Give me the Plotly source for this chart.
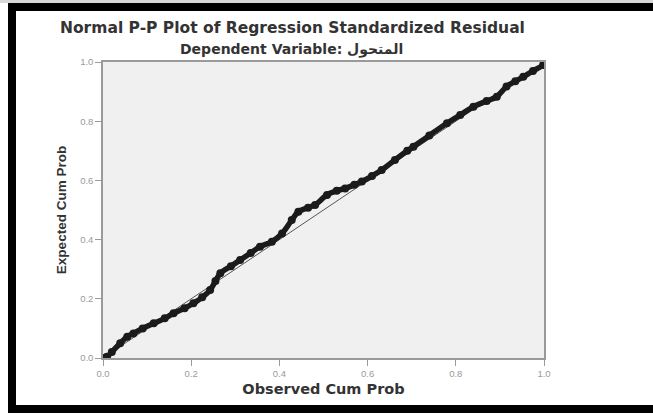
import plotly.graph_objects as go

# Data
observed = [0.0, 0.009, 0.02, 0.039, 0.055, 0.069, 0.09, 0.115, 0.14, 0.16, 0.185,
            0.205, 0.225, 0.243, 0.255, 0.266, 0.29, 0.311, 0.335, 0.356, 0.383,
            0.406, 0.428, 0.443, 0.465, 0.481, 0.508, 0.53, 0.549, 0.57, 0.587,
            0.61, 0.632, 0.662, 0.69, 0.704, 0.74, 0.78, 0.81, 0.84, 0.87, 0.893,
            0.915, 0.935, 0.953, 0.975, 0.998, 1.0]
expected = [0.0, 0.004, 0.02, 0.05, 0.072, 0.083, 0.10, 0.117, 0.134, 0.151, 0.168,
            0.185, 0.205, 0.23, 0.26, 0.286, 0.31, 0.331, 0.355, 0.376, 0.393,
            0.421, 0.466, 0.494, 0.508, 0.517, 0.551, 0.565, 0.573, 0.585, 0.596,
            0.615, 0.635, 0.669, 0.70, 0.714, 0.752, 0.793, 0.821, 0.849, 0.868, 0.883,
            0.917, 0.935, 0.95, 0.97, 0.99, 1.0]
diag = [0.0, 1.0]
tick_vals = [0.0, 0.2, 0.4, 0.6, 0.8, 1.0]
tick_text = ["0.0", "0.2", "0.4", "0.6", "0.8", "1.0"]

# Window-coordinate geometry (figure sits inside a CSS black frame)
OX, OY = 16, 11
W, H = 637, 394
PX0, PX1, PY0, PY1 = 103, 544, 62, 358
L, R = PX0 - OX, (OX + W) - PX1
T, B = PY0 - OY, (OY + H) - PY1
pw, ph = PX1 - PX0, PY1 - PY0

def px(x):
    return (x - PX0) / pw

def py(y):
    return (PY1 - y) / ph

fig = go.Figure()
fig.add_trace(go.Scatter(x=diag, y=diag, mode="lines",
                         line=dict(color="#555555", width=1), hoverinfo="skip"))
fig.add_trace(go.Scatter(x=observed, y=expected, mode="lines+markers",
                         line=dict(color="#1b1b1b", width=5.5, shape="spline"),
                         marker=dict(symbol="circle-open", size=6, color="#1b1b1b",
                                     line=dict(width=2))))

axis_common = dict(range=[0, 1], tickvals=tick_vals, ticktext=tick_text,
                   showgrid=False, zeroline=False, showline=True, mirror=True,
                   linecolor="#9a9a9a", linewidth=1.5, ticks="outside", ticklen=6,
                   tickcolor="#9a9a9a", tickfont=dict(family="Arial", size=9.5, color="#9a9a9a"))

fig.update_layout(
    width=W, height=H,
    margin=dict(l=L, r=R, t=T, b=B, autoexpand=False),
    paper_bgcolor="white", plot_bgcolor="#f0f0f0",
    showlegend=False,
    xaxis=dict(**axis_common,
               title=dict(text="<b>Observed Cum Prob</b>", standoff=6,
                          font=dict(family="DejaVu Sans", size=14.5, color="#333333"))),
    yaxis=dict(**axis_common,
               title=dict(text="<b>Expected Cum Prob</b>", standoff=10,
                          font=dict(family="Liberation Sans", size=13.5, color="#333333"))),
    annotations=[
        dict(text="<b>Normal P-P Plot of Regression Standardized Residual</b>",
             xref="paper", yref="paper", x=px(292), y=py(28), showarrow=False,
             xanchor="center", yanchor="middle",
             font=dict(family="DejaVu Sans", size=15.5, color="#333333")),
        dict(text="<b>Dependent Variable: المتحول</b>",
             xref="paper", yref="paper", x=px(291), y=py(50), showarrow=False,
             xanchor="center", yanchor="middle",
             font=dict(family="DejaVu Sans", size=14, color="#333333")),
    ],
)

css = (
    "document.documentElement.style.background='white';"
    "document.body.style.margin='0';document.body.style.padding='0';"
    "document.body.style.background='white';"
    "document.body.style.borderTop='3px solid #d8d8d8';"
    "var d=document.getElementById('{plot_id}');"
    "d.style.marginLeft='8px';"
    "d.style.borderLeft='8px solid black';"
    "d.style.borderTop='8px solid black';"
    "d.style.borderBottom='8px solid black';"
    "d.style.width='%dpx';" % W
)

fig.write_html("out.html", config={"displayModeBar": False}, post_script=css)
